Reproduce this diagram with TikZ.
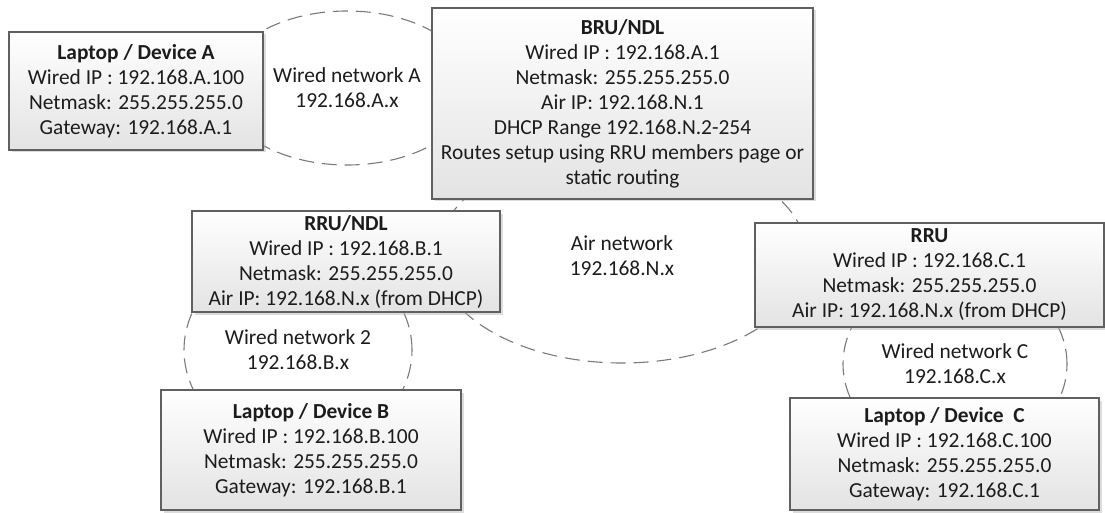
\documentclass[tikz,border=0pt]{standalone}
\usepackage{fontspec}
\setmainfont{Carlito}
\usetikzlibrary{shapes.geometric,shadows}
\definecolor{boxline}{HTML}{606060}
\definecolor{netline}{HTML}{7A7A7A}
\definecolor{txt}{HTML}{1C1C1C}
\begin{document}
\begin{tikzpicture}[x=1pt,y=-1pt,
  devbox/.style={rectangle, draw=boxline, line width=1.2pt, top color=white, bottom color=black!11,
    align=center, text=txt, font=\fontsize{21.4}{25}\selectfont, inner sep=0pt,
    drop shadow={shadow xshift=2.5pt, shadow yshift=-2.5pt, fill=black!30, opacity=0.45}},
  netring/.style={ellipse, draw=netline, line width=1.1pt, dash pattern=on 15pt off 8pt,
    inner sep=0pt, align=center, text=txt, font=\fontsize{21.4}{25}\selectfont}]
\useasboundingbox[fill=white] (0,0) rectangle (1105,513);

% networks (drawn first, behind the boxes)
\node[netring, minimum width=252pt, minimum height=154pt] (netA) at (347,88)
  {Wired network A\\192.168.A.x};
\node[netring, minimum width=370pt, minimum height=215pt] (air) at (622,255.5)
  {Air network\\192.168.N.x};
\node[netring, minimum width=228pt, minimum height=200pt] (netB) at (298,350)
  {Wired network 2\\192.168.B.x};
\node[netring, minimum width=224pt, minimum height=190pt] (netC) at (955,364)
  {Wired network C\\192.168.C.x};

% devices
\node[devbox, minimum width=254pt, minimum height=118pt] (devA) at (136,91)
  {\textbf{Laptop / Device A}\\Wired IP : 192.168.A.100\\Netmask: 255.255.255.0\\Gateway: 192.168.A.1};
\node[devbox, minimum width=381pt, minimum height=191pt] (bru) at (622.5,103.5)
  {\textbf{BRU/NDL}\\Wired IP : 192.168.A.1\\Netmask: 255.255.255.0\\Air IP: 192.168.N.1\\DHCP Range 192.168.N.2-254\\Routes setup using RRU members page or\\static routing};
\node[devbox, minimum width=308pt, minimum height=101pt] (rrundl) at (346,261.5)
  {\textbf{RRU/NDL}\\Wired IP : 192.168.B.1\\Netmask: 255.255.255.0\\Air IP: 192.168.N.x (from DHCP)};
\node[devbox, minimum width=349pt, minimum height=104pt] (rru) at (929.5,275)
  {\textbf{RRU}\\Wired IP : 192.168.C.1\\Netmask: 255.255.255.0\\Air IP: 192.168.N.x (from DHCP)};
\node[devbox, minimum width=300pt, minimum height=120pt] (devB) at (311,450)
  {\textbf{Laptop / Device B}\\Wired IP : 192.168.B.100\\Netmask: 255.255.255.0\\Gateway: 192.168.B.1};
\node[devbox, minimum width=309pt, minimum height=112pt] (devC) at (944.5,454)
  {\textbf{Laptop / Device\ \ C}\\Wired IP : 192.168.C.100\\Netmask: 255.255.255.0\\Gateway: 192.168.C.1};
\end{tikzpicture}
\end{document}
